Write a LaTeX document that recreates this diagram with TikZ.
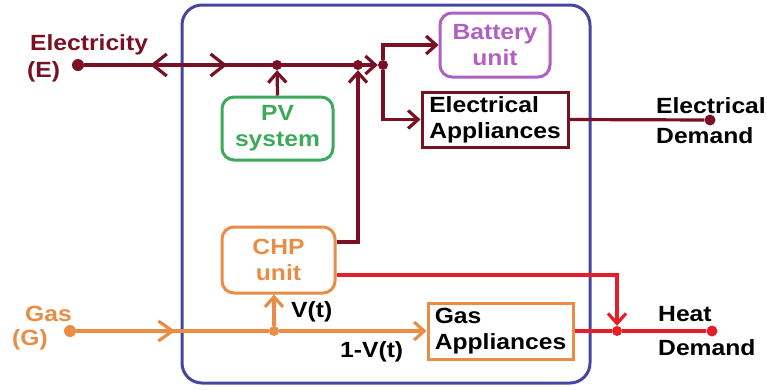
\documentclass[tikz,border=0pt]{standalone}
\usepackage{fontspec}
\setmainfont{Liberation Sans}[FakeStretch=1.12]
\usetikzlibrary{arrows.meta,decorations.markings}
\definecolor{maroonc}{RGB}{122,16,36}
\definecolor{greenc}{RGB}{60,170,90}
\definecolor{purplec}{RGB}{176,96,192}
\definecolor{orangec}{RGB}{232,140,70}
\definecolor{redc}{RGB}{230,30,40}
\definecolor{bluec}{RGB}{70,70,160}
\begin{document}
\begin{tikzpicture}[x=1pt,y=-1pt,
  font=\fontsize{22}{26}\selectfont\bfseries,
  line/.style={line width=3.2pt},
  tipA/.style={-{Straight Barb[length=10pt,width=18pt]}},
  rbox/.style={draw, line width=3pt, rounded corners=12pt, align=center, inner sep=0pt},
  sbox/.style={draw, line width=3pt, align=left, inner sep=0pt},
  dot/.style={circle, fill, inner sep=0pt, minimum size=#1},
  dot/.default=10pt,
  lbl/.style={inner sep=0pt, anchor=west}]
\useasboundingbox (0,0) rectangle (767,389);

% frame
\draw[bluec, line width=3pt, rounded corners=20pt] (182,5) rectangle (590,383);

% boxes
\node[rbox, greenc, minimum width=111pt, minimum height=63pt] (PV) at (277.5,128.5) {PV\\system};
\node[rbox, purplec, minimum width=110pt, minimum height=64pt] (Bat) at (495,45) {Battery\\unit};
\node[sbox, maroonc, minimum width=146pt, minimum height=55pt, text=black] (EA) at (495,119.5) {Electrical\\Appliances};
\node[rbox, orangec, minimum width=113pt, minimum height=66pt] (CHP) at (278.5,260) {CHP\\unit};
\node[sbox, orangec, minimum width=145pt, minimum height=56pt, text=black] (GA) at (500.5,331) {Gas\\Appliances};

% dots / junctions
\node[dot=12pt, maroonc] (Ed) at (78,65) {};
\node[dot, maroonc] (J1) at (277,65) {};
\node[dot, maroonc] (J2) at (358,65) {};
\node[dot, maroonc] (J3) at (383,65) {};
\node[dot=11pt, maroonc] (ED) at (710,120) {};
\node[dot=12pt, orangec] (Gd) at (70,331) {};
\node[dot, orangec] (J5) at (274,331) {};
\node[dot, redc] (J4) at (617,331) {};
\node[dot=11pt, redc] (HD) at (712,331) {};

% labels
\node[lbl, maroonc] (tE1) at (30,45) {Electricity};
\node[lbl, maroonc] (tE2) at (27,72) {(E)};
\node[lbl, orangec] (tG1) at (25,314) {Gas};
\node[lbl, orangec] (tG2) at (12,340) {(G)};
\node[lbl] (tD1) at (656,106) {Electrical};
\node[lbl] (tD2) at (656,136) {Demand};
\node[lbl] (tH1) at (658,314) {Heat};
\node[lbl] (tH2) at (658,348) {Demand};
\node[lbl] (tV) at (291,312) {V(t)};
\node[lbl] (tV1) at (340,352) {1-V(t)};

% electricity connectors
\draw[line, maroonc, tipA, postaction={decorate},
  decoration={markings,
    mark=at position 66pt with {\arrowreversed{Straight Barb[length=14pt,width=22pt]}},
    mark=at position 143pt with {\arrow{Straight Barb[length=14pt,width=22pt]}}}]
  (Ed) -- (J3);
\draw[line, maroonc, tipA] (PV.north) -- (J1);
\draw[line, maroonc, tipA] ([yshift=18pt]CHP.east) -| (J2);
\draw[line, maroonc, tipA] (J3) |- (Bat.west);
\draw[line, maroonc, tipA] (J3) |- (EA.west);
\draw[line, maroonc] (EA.east) -- (ED);

% heat
\draw[line, redc, tipA] ([yshift=-15pt]CHP.east) -| (J4);
\draw[line, redc] (GA.east) -- (J4);
\draw[line, redc] (J4) -- (HD);

% gas
\draw[line, orangec, postaction={decorate},
  decoration={markings,
    mark=at position 99pt with {\arrow{Straight Barb[length=14pt,width=20pt]}}}]
  (Gd) -- (J5);
\draw[line, orangec, tipA] (J5) -- (J5 |- CHP.south);
\draw[line, orangec, tipA] (J5) -- (GA.west);
\end{tikzpicture}
\end{document}
